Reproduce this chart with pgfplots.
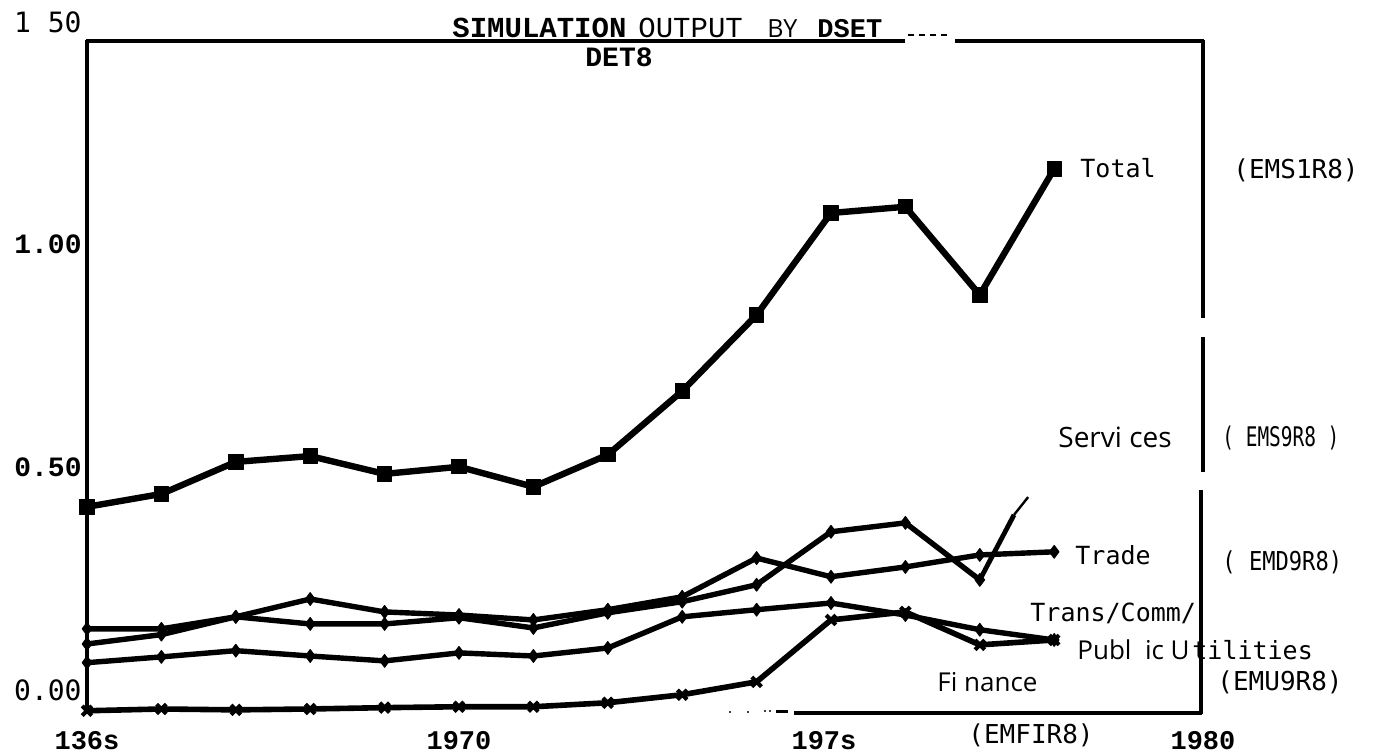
\documentclass[border=0pt]{standalone}
\usepackage{pgfplots}
\pgfplotsset{compat=1.18}
\usepackage{graphicx}
\usepackage{fontspec}
\setmainfont{Open Sans}
\newfontfamily\lmono{DejaVu Sans Mono}
\newfontfamily\bmono{Liberation Mono}
\newcommand{\fs}[1]{\fontsize{#1}{#1}\selectfont}
\begin{document}
\begin{tikzpicture}
\path[use as bounding box] (0,0) rectangle (686.5pt,377pt);
\begin{axis}[
  at={(43.5pt,20.5pt)}, anchor=south west,
  scale only axis, width=558pt, height=345.5pt,
  xmin=1965, xmax=1980, ymin=-0.052, ymax=1.5,
  axis line style={draw=none},
  major tick length=0pt, tick style={draw=none},
  xtick={1965,1970,1975,1980},
  xticklabels={136s,1970,\hspace*{-7pt}197s,1980},
  xticklabel style={font=\bmono\bfseries\fs{13.5}, inner sep=0pt, anchor=north, yshift=-9pt},
  ytick={0,0.5,1,1.5},
  yticklabels={{\lmono\fs{14}0.00},{\bmono\bfseries\fs{14}0.50},{\bmono\bfseries\fs{14}1.00},{\lmono\fs{14}1\ 50}},
  yticklabel style={inner sep=0pt, anchor=east, xshift=-2.5pt},
  clip=false,
  every axis plot/.append style={black, line join=round},
]
% Total
\addplot[line width=3.2pt, mark=square*, mark size=3.6pt, mark options={line width=0.5pt}] coordinates {
(1965,0.411)(1966,0.440)(1967,0.512)(1968,0.525)(1969,0.485)(1970,0.501)(1971,0.456)
(1972,0.528)(1973,0.671)(1974,0.842)(1975,1.071)(1976,1.085)(1977,0.887)(1978,1.170)};
% Trade
\addplot[line width=2.7pt, mark=diamond*, mark size=3.2pt, mark options={line width=0.5pt}] coordinates {
(1965,0.137)(1966,0.137)(1967,0.164)(1968,0.204)(1969,0.175)(1970,0.168)(1971,0.157)
(1972,0.180)(1973,0.209)(1974,0.296)(1975,0.254)(1976,0.276)(1977,0.303)(1978,0.310)};
% Services
\addplot[line width=2.7pt, mark=diamond*, mark size=3.2pt, mark options={line width=0.5pt}] coordinates {
(1965,0.103)(1966,0.124)(1967,0.164)(1968,0.148)(1969,0.148)(1970,0.162)(1971,0.139)
(1972,0.173)(1973,0.198)(1974,0.236)(1975,0.355)(1976,0.375)(1977,0.247)};
\addplot[line width=2.4pt, mark=none] coordinates {(1977,0.247)(1977.46,0.393)};
\addplot[line width=1.2pt, mark=none] coordinates {(1977.46,0.393)(1977.65,0.433)};
% Trans/Comm/Public Utilities
\addplot[line width=2.7pt, mark=diamond*, mark size=3.2pt, mark options={line width=0.5pt}] coordinates {
(1965,0.061)(1966,0.074)(1967,0.088)(1968,0.076)(1969,0.065)(1970,0.083)(1971,0.076)
(1972,0.094)(1973,0.164)(1974,0.180)(1975,0.195)(1976,0.168)(1977,0.135)(1978,0.112)};
% Finance
\addplot[line width=2.8pt, mark=x, mark size=3.4pt, mark options={line width=2pt}] coordinates {
(1965,-0.047)(1966,-0.043)(1967,-0.045)(1968,-0.043)(1969,-0.040)(1970,-0.038)(1971,-0.038)
(1972,-0.029)(1973,-0.011)(1974,0.018)(1975,0.157)(1976,0.175)(1977,0.101)(1978,0.112)};
\end{axis}
\begin{scope}[shift={(0,377pt)}, x=0.5pt, y=-0.5pt]
 % frame pieces
 \draw[line width=2.2pt] (86,41)--(905,41);
 \draw[line width=2.2pt] (955,41)--(1204,41);
 \draw[line width=2.2pt] (87,40)--(87,713);
 \draw[line width=2.2pt] (1203,40)--(1203,318);
 \draw[line width=2.2pt] (1203,337)--(1203,472);
 \draw[line width=2.2pt] (1201,490)--(1201,714);
 \draw[line width=2.2pt] (794,713)--(1202,713);
 \draw[line width=1pt, dash pattern=on 3pt off 2.5pt] (908,35)--(952,35);
 \fill (730,712) circle (1.2); \fill (748,712) circle (1.2); \fill (765,711) circle (1.2);
 \fill (770,711) circle (1.2); \fill (776,710) rectangle (788,713);
 % title
 \node[anchor=base west, inner sep=0, font=\bmono\bfseries\fs{14.5}] at (452,38) {SIMULATION};
 \node[anchor=base west, inner sep=0, font=\bmono\fs{14.5}] at (638,38) {OUTPUT};
 \node[anchor=base west, inner sep=0, font=\fs{12.5}] at (767,38) {BY};
 \node[anchor=base west, inner sep=0, font=\bmono\bfseries\fs{13.5}] at (817,38) {DSET};
 \node[anchor=base west, inner sep=0, font=\bmono\bfseries\fs{14}] at (585,67) {DET8};
 % series labels
 \node[anchor=west, inner sep=0, font=\lmono\fs{12.5}] at (1080,168) {Total};
 \node[anchor=west, inner sep=0, font=\lmono\fs{13}] at (1233,170) {(EMS1R8)};
 \node[anchor=west, inner sep=0, font=\fs{14}] at (1058,437) {Servi ces};
 \node[anchor=west, inner sep=0, font=\lmono\fs{13.5}] at (1222,438) {\scalebox{0.72}[1]{( EMS9R8 )}};
 \node[anchor=west, inner sep=0, font=\lmono\fs{12.5}] at (1075,555) {Trade};
 \node[anchor=west, inner sep=0, font=\lmono\fs{13}] at (1222,562) {\scalebox{0.85}[1]{( EMD9R8)}};
 \node[anchor=west, inner sep=0, font=\lmono\fs{12.5}] at (1030,613) {Trans/Comm/};
 \node[anchor=west, inner sep=0, font=\fs{13}] at (1077,650) {Publ\ \ ic U};
 \node[anchor=west, inner sep=0, font=\lmono\fs{12.5}] at (1192,650) {tilities};
 \node[anchor=west, inner sep=0, font=\lmono\fs{13}] at (1217,682) {(EMU9R8)};
 \node[anchor=west, inner sep=0, font=\fs{13}] at (937,682) {Fi nance};
 \node[anchor=west, inner sep=0, font=\lmono\fs{13}] at (968,735) {(EMFIR8)};
\end{scope}
\end{tikzpicture}
\end{document}
